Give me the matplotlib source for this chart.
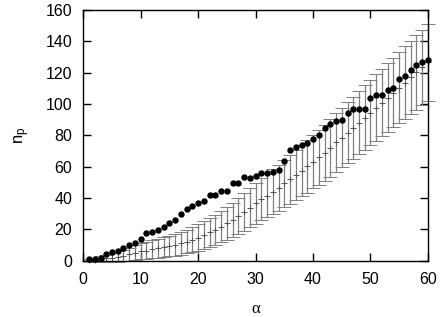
import matplotlib
matplotlib.use('Agg')
import matplotlib.pyplot as plt

# alpha values
alpha = list(range(1, 61))

# measured n_p (black dots)
n_meas = [0.9, 0.9, 1.9, 4.3, 5.3, 6.2, 7.9, 9.8, 11.1, 13.8,
          17.9, 18.5, 19.8, 21.7, 23.9, 26.2, 29.6, 32.8, 34.9, 37.0,
          38.3, 41.7, 41.7, 44.7, 44.7, 49.4, 49.8, 53.2, 52.8, 54.1,
          55.8, 55.8, 56.8, 57.9, 63.8, 70.6, 72.8, 73.8, 74.9, 77.9,
          80.0, 84.9, 87.0, 88.9, 90.0, 94.1, 97.0, 97.0, 97.0, 104.0,
          106.0, 106.0, 108.9, 110.0, 116.0, 118.1, 121.9, 125.1, 127.0, 128.1]

# model mean and spread (error bars)
n_mean = [0.3, 0.6, 1.0, 1.5, 2.0, 2.6, 3.3, 4.1, 5.0, 5.9,
          6.5, 7.2, 7.9, 8.6, 9.4, 10.2, 11.1, 12.2, 13.4, 14.8,
          16.4, 18.0, 19.8, 21.8, 23.8, 26.0, 28.5, 31.0, 33.8, 36.6,
          39.2, 41.5, 44.0, 46.6, 49.4, 51.9, 54.7, 57.4, 60.2, 63.2,
          65.9, 68.9, 72.0, 75.5, 78.5, 81.7, 84.9, 88.1, 91.3, 94.5,
          97.7, 100.9, 104.1, 107.3, 110.5, 113.7, 116.9, 120.1, 123.3, 126.5]
n_err = [0.8, 1.3, 1.8, 2.3, 2.8, 3.3, 3.8, 4.3, 4.7, 5.1,
         5.4, 5.7, 6.0, 6.3, 6.6, 6.9, 7.2, 7.5, 7.9, 8.3,
         8.7, 9.1, 9.6, 10.0, 10.5, 11.0, 11.5, 12.0, 12.5, 13.0,
         13.5, 13.9, 14.3, 14.7, 15.1, 15.5, 15.9, 16.3, 16.7, 17.1,
         17.5, 17.9, 18.3, 18.7, 19.0, 19.4, 19.8, 20.1, 20.5, 20.9,
         21.2, 21.6, 22.0, 22.3, 22.7, 23.1, 23.4, 23.8, 24.2, 24.5]

plt.rcParams['font.family'] = ['Liberation Sans', 'DejaVu Sans']
plt.rcParams['mathtext.default'] = 'regular'

fig = plt.figure(figsize=(4.43, 3.17), dpi=100)
ax = fig.add_axes([0.188, 0.1776, 0.778, 0.791])

ax.errorbar(alpha, n_mean, yerr=n_err, fmt='+', color='#555555',
            ecolor='#808080', elinewidth=0.9, capsize=5, capthick=0.9,
            markersize=4, markeredgewidth=0.7, clip_on=False, zorder=2)
ax.plot(alpha, n_meas, 'o', color='black', markersize=3.6, clip_on=False, zorder=3)

ax.set_xlim(0, 60)
ax.set_ylim(0, 160)
ax.set_xticks(range(0, 61, 10))
ax.set_yticks(range(0, 161, 20))
ax.tick_params(direction='in', length=6, width=1, top=True, right=True,
               labelsize=11.5, pad=8)
for s in ax.spines.values():
    s.set_linewidth(1.0)

ax.set_xlabel('α', family=['Liberation Serif', 'DejaVu Serif'], fontsize=12, labelpad=10)
ax.set_ylabel('n$_p$', fontsize=12, labelpad=10)

fig.savefig('out.png', dpi=100)
